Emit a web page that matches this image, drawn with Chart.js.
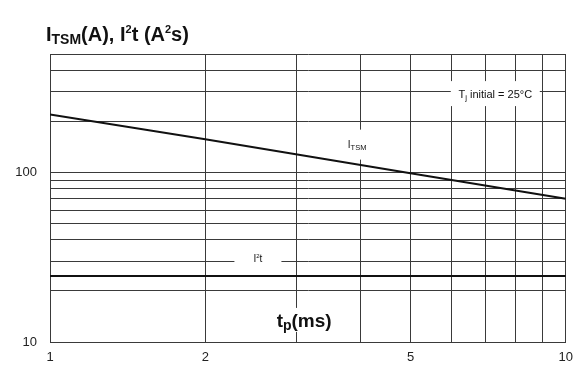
<!DOCTYPE html>
<html>
<head>
<meta charset="utf-8">
<script src="https://cdn.jsdelivr.net/npm/chart.js@4.4.0/dist/chart.umd.min.js"></script>
<style>
  html, body { margin: 0; padding: 0; background: #fff; }
  #chart { display: block; }
</style>
</head>
<body>
<canvas id="chart" width="581" height="372"></canvas>
<script>
// pulse duration (ms) and read values
const tpMs = [1, 2, 5, 10];
const itsmValues = [220, 157, 99, 70];
const i2tValues = [24.5, 24.5, 24.5, 24.5];

const xGridTicks = [1, 2, 3, 4, 5, 6, 7, 8, 9, 10];
const xLabelTicks = [1, 2, 5, 10];
const yGridTicks = [10, 20, 30, 40, 50, 60, 70, 80, 90, 100, 200, 300, 400, 500];
const yLabelTicks = [10, 100];

const FONT = "Arial, 'Liberation Sans', Helvetica, sans-serif";
const GRID = "#3a3a3a";

// labels placed in data coordinates, with a white patch behind them
const notes = [
  { x: 3.94, y: 146, w: 26, h: 30, bold: false, parts: [["I", 10, 0], ["TSM", 7.5, 2]] },
  { x: 2.53, y: 31, w: 47, h: 16, bold: false, parts: [["I", 10, 0], ["2", 6, -4], ["t", 10, 0]] },
  { x: 7.3, y: 292, w: 89, h: 25, bold: false, parts: [["T", 11, 0], ["j", 8, 2], [" initial = 25°C", 11, 0]] },
  { x: 3.11, y: 13.5, w: 66, h: 24, bold: true, parts: [["t", 19, 0], ["p", 14, 3], ["(ms)", 19, 0]] }
];

function drawRich(ctx, x, baseline, parts, bold, center) {
  const weight = bold ? "bold " : "";
  let total = 0;
  parts.forEach(([t, size]) => {
    ctx.font = weight + size + "px " + FONT;
    total += ctx.measureText(t).width;
  });
  let cx = center ? x - total / 2 : x;
  ctx.textBaseline = "alphabetic";
  ctx.textAlign = "left";
  parts.forEach(([t, size, dy]) => {
    ctx.font = weight + size + "px " + FONT;
    ctx.fillText(t, cx, baseline + dy);
    cx += ctx.measureText(t).width;
  });
}

const notesPlugin = {
  id: "notes",
  afterDraw(chart) {
    const { ctx, scales: { x, y } } = chart;
    ctx.save();
    notes.forEach(n => {
      const px = x.getPixelForValue(n.x);
      const py = y.getPixelForValue(n.y);
      ctx.fillStyle = "#fff";
      ctx.fillRect(px - n.w / 2, py - n.h / 2, n.w, n.h);
      ctx.fillStyle = "#111";
      drawRich(ctx, px, py + n.parts[0][1] * 0.36, n.parts, n.bold, true);
    });
    // axis title, top left
    ctx.fillStyle = "#111";
    drawRich(ctx, 46, 41, [
      ["I", 20, 0], ["TSM", 14, 3], ["(A), I", 20, 0], ["2", 11, -8],
      ["t (A", 20, 0], ["2", 11, -8], ["s)", 20, 0]
    ], true, false);
    ctx.restore();
  }
};

new Chart(document.getElementById("chart"), {
  type: "scatter",
  data: {
    datasets: [
      {
        label: "ITSM",
        data: tpMs.map((t, i) => ({ x: t, y: itsmValues[i] })),
        showLine: true,
        borderColor: "#111",
        borderWidth: 2,
        pointRadius: 0
      },
      {
        label: "I2t",
        data: tpMs.map((t, i) => ({ x: t, y: i2tValues[i] })),
        showLine: true,
        borderColor: "#111",
        borderWidth: 2,
        pointRadius: 0
      }
    ]
  },
  options: {
    responsive: false,
    animation: false,
    devicePixelRatio: 1,
    layout: { padding: { top: 54, right: 10, left: 0, bottom: 0 } },
    plugins: {
      legend: { display: false },
      tooltip: { enabled: false }
    },
    scales: {
      x: {
        type: "logarithmic",
        min: 1,
        max: 10,
        afterBuildTicks: s => { s.ticks = xGridTicks.map(v => ({ value: v })); },
        afterFit: s => { s.height = 30; },
        ticks: {
          autoSkip: false,
          maxRotation: 0,
          padding: 8,
          color: "#222",
          font: { family: FONT, size: 13 },
          callback: v => xLabelTicks.includes(v) ? String(v) : ""
        },
        grid: { color: GRID, lineWidth: 1, drawTicks: false },
        border: { color: GRID, width: 1 }
      },
      y: {
        type: "logarithmic",
        min: 10,
        max: 500,
        afterBuildTicks: s => { s.ticks = yGridTicks.map(v => ({ value: v })); },
        afterFit: s => { s.width = 50; },
        ticks: {
          autoSkip: false,
          padding: 13,
          color: "#222",
          font: { family: FONT, size: 13 },
          callback: v => yLabelTicks.includes(v) ? String(v) : ""
        },
        grid: { color: GRID, lineWidth: 1, drawTicks: false },
        border: { color: GRID, width: 1 }
      }
    }
  },
  plugins: [notesPlugin]
});
</script>
</body>
</html>
